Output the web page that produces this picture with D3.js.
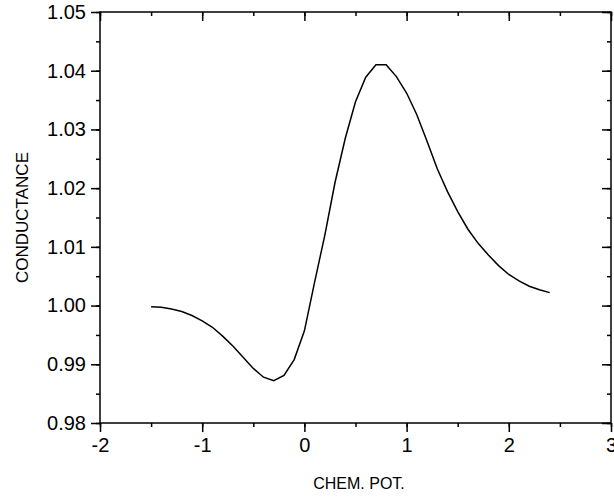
<!DOCTYPE html>
<html><head><meta charset="utf-8">
<script src="https://cdn.jsdelivr.net/npm/d3@7"></script>
<style>body{margin:0;background:#fff}svg text{font-family:"Liberation Sans",Arial,Helvetica,sans-serif;fill:#000}</style>
</head><body>
<svg id="c" width="614" height="499"></svg>
<script>
const chemPot = [-1.5,-1.4,-1.3,-1.2,-1.1,-1.0,-0.9,-0.8,-0.7,-0.6,-0.5,-0.4,-0.3,-0.2,-0.1,0.0,0.1,0.2,0.3,0.4,0.5,0.6,0.7,0.8,0.9,1.0,1.1,1.2,1.3,1.4,1.5,1.6,1.7,1.8,1.9,2.0,2.1,2.2,2.3,2.4];
const conductance = [0.9998,0.9997,0.9994,0.9990,0.9983,0.9974,0.9963,0.9948,0.9931,0.9912,0.9893,0.9878,0.9872,0.9881,0.9908,0.9957,1.0040,1.0120,1.0210,1.0285,1.0347,1.0389,1.0410,1.0410,1.0390,1.0362,1.0325,1.0280,1.0233,1.0194,1.0160,1.0130,1.0106,1.0086,1.0068,1.0053,1.0042,1.0033,1.0027,1.0022];
const xTicks = [-2,-1,0,1,2,3];
const yTicks = [0.98,0.99,1.00,1.01,1.02,1.03,1.04,1.05];
const xTitle = "CHEM. POT.";
const yTitle = "CONDUCTANCE";

const L=100,R=611,T=12,B=423;
const x=d3.scaleLinear().domain([-2,3]).range([L,R]);
const y=d3.scaleLinear().domain([0.98,1.05]).range([B,T]);
const svg=d3.select("#c");
const xMinor=d3.range(-2,3.001,0.5), yMinor=d3.range(0.98,1.0501,0.005);

function style(g){g.select(".domain").remove();g.selectAll("line").attr("stroke","#000").attr("stroke-width",1.5);g.selectAll("text").attr("font-size",null).style("font-size","20px");}
// minor ticks
svg.append("g").attr("transform",`translate(0,${B})`).call(d3.axisBottom(x).tickValues(xMinor).tickSize(4).tickFormat("")).call(style);
svg.append("g").attr("transform",`translate(0,${T})`).call(d3.axisBottom(x).tickValues(xMinor).tickSize(4).tickFormat("")).call(style);
svg.append("g").attr("transform",`translate(${L},0)`).call(d3.axisLeft(y).tickValues(yMinor).tickSize(4).tickFormat("")).call(style);
svg.append("g").attr("transform",`translate(${R},0)`).call(d3.axisLeft(y).tickValues(yMinor).tickSize(4).tickFormat("")).call(style);
// major ticks
svg.append("g").attr("transform",`translate(0,${B})`).call(d3.axisBottom(x).tickValues(xTicks).tickSize(9).tickPadding(6).tickFormat(d=>String(d))).call(style);
svg.append("g").attr("transform",`translate(0,${T})`).call(d3.axisBottom(x).tickValues(xTicks).tickSize(9).tickFormat("")).call(style);
svg.append("g").attr("transform",`translate(${L},0)`).call(d3.axisLeft(y).tickValues(yTicks).tickSize(9).tickPadding(5).tickFormat(d3.format(".2f"))).call(style);
svg.append("g").attr("transform",`translate(${R},0)`).call(d3.axisLeft(y).tickValues(yTicks).tickSize(9).tickFormat("")).call(style);
// frame
svg.append("rect").attr("x",L).attr("y",T).attr("width",R-L).attr("height",B-T).attr("fill","none").attr("stroke","#000").attr("stroke-width",1.5);
// line
svg.append("path").datum(chemPot.map((v,i)=>[v,conductance[i]]))
 .attr("d",d3.line().x(d=>x(d[0])).y(d=>y(d[1])))
 .attr("fill","none").attr("stroke","#000").attr("stroke-width",1.5);
// titles
svg.append("text").attr("x",359).attr("y",489).attr("text-anchor","middle").style("font-size","16px").text(xTitle);
svg.append("text").attr("transform",`translate(28,${(T+B)/2}) rotate(-90)`).attr("text-anchor","middle").style("font-size","17px").text(yTitle);
</script></body></html>
